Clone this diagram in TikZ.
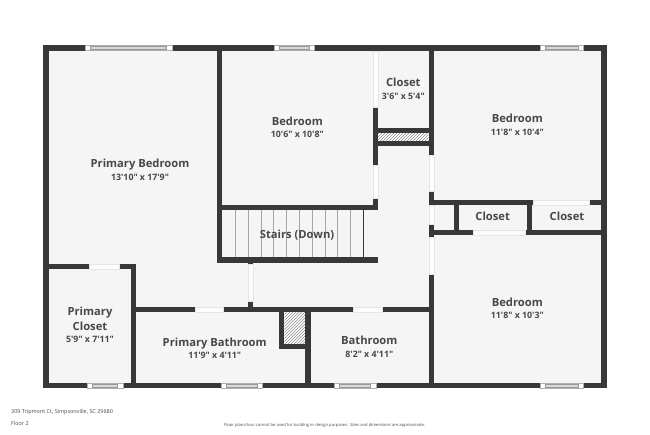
\documentclass[tikz,border=0pt]{standalone}
\usepackage{fontspec}
\newfontfamily\planfont{Open Sans}
\usetikzlibrary{positioning,patterns}

\definecolor{wallcol}{HTML}{383838}
\definecolor{floorcol}{HTML}{F5F5F5}
\definecolor{textcol}{HTML}{484848}
\definecolor{panecol}{HTML}{D9D9D9}

\tikzset{
  wall/.style={draw=wallcol, line width=5.3pt, line cap=butt},
  doorgap/.style={draw=black!10, line width=0.25pt, fill=white!70!floorcol},
  winframe/.style={draw=panecol!80!black, line width=0.3pt, fill=white},
  winpane/.style={draw=panecol!70!black, line width=0.3pt, fill=panecol},
  riser/.style={draw=black!35, line width=0.6pt},
  roomname/.style={text=textcol, font=\planfont\bfseries\fontsize{11.2}{13}\selectfont, inner sep=0pt, align=center},
  roomsize/.style={text=textcol, font=\planfont\bfseries\fontsize{8.8}{10}\selectfont, inner sep=0pt},
  footnote/.style={text=textcol, inner sep=0pt, anchor=west}
}

\begin{document}
\begin{tikzpicture}[x=1pt, y=-1pt]
        \useasboundingbox (0,0) rectangle (650,434);

        % floor
        \fill[floorcol] (46,48) rectangle (604,385.7);

        % hatched fill
        \fill[white] (378,133.3) rectangle (428.7,141);
        \fill[pattern=north east lines, pattern color=black!45] (378,133.3) rectangle (428.7,141);
        \fill[white] (284.3,312.3) rectangle (305.3,343.7);
        \fill[pattern=north east lines, pattern color=black!45] (284.3,312.3) rectangle (305.3,343.7);

        % stairs
        \path[riser]
          (235.7,210) -- (235.7,257.5)
          (248.3,210) -- (248.3,257.5)
          (261,210) -- (261,257.5)
          (273.7,210) -- (273.7,257.5)
          (286.7,210) -- (286.7,257.5)
          (299.7,210) -- (299.7,257.5)
          (312.7,210) -- (312.7,257.5)
          (325.3,210) -- (325.3,257.5)
          (337.3,210) -- (337.3,257.5)
          (350.7,210) -- (350.7,257.5);
        \draw[wallcol, line width=1pt] (363.3,210) -- (363.3,257.5);

        % outer walls
        \draw[wall, line join=miter] (46,48) rectangle (604.1,385.7);

        % inner walls
        \path[wall]
          (219.3,48) -- (219.3,262.7)
          (217,207.7) -- (378,207.7)
          (217,260) -- (378,260)
          (375.3,106.7) -- (375.3,165)
          (375.3,198.3) -- (375.3,210.3)
          (431.2,48) -- (431.2,155)
          (431.2,190.7) -- (431.2,205)
          (431.2,223.7) -- (431.2,237.3)
          (431.2,274) -- (431.2,388)
          (375,130.8) -- (431,130.8)
          (375,143.5) -- (431,143.5)
          (429,202.7) -- (604,202.7)
          (429,232.5) -- (604,232.5)
          (456.2,202) -- (456.2,233)
          (529.5,202) -- (529.5,233)
          (46,266.8) -- (136.3,266.8)
          (133.8,264.2) -- (133.8,388)
          (133.8,309.7) -- (431,309.7)
          (281.7,307) -- (281.7,349)
          (279,346.3) -- (310.7,346.3)
          (308,307) -- (308,388);
        \draw[wallcol, line width=5pt] (250.7,262) -- (250.7,264.4) (250.7,301) -- (250.7,308);

        % door openings
        \draw[doorgap] (372.7,50.7) rectangle (378,106.7);
        \draw[doorgap] (372.7,165) rectangle (378,198.3);
        \draw[doorgap] (428.7,155) rectangle (433.7,190.7);
        \draw[doorgap] (428.7,205.4) rectangle (433.7,223.7);
        \draw[doorgap] (428.7,237.3) rectangle (433.7,274);
        \draw[doorgap] (533.3,200) rectangle (589.3,205.4);
        \draw[doorgap] (473.3,229.8) rectangle (525.3,235.2);
        \draw[doorgap] (89.3,264.1) rectangle (119.3,269.5);
        \draw[doorgap] (195,307) rectangle (223.3,312.4);
        \draw[doorgap] (352.7,307) rectangle (382,312.4);
        \draw[doorgap] (248.2,264.4) rectangle (253.2,301);

        % windows
        \draw[winframe] (85,45.4) rectangle (171.7,50.6);
        \draw[winpane] (90.5,46.4) rectangle (166.5,49.6);
        \draw[winframe] (274,45.4) rectangle (314.3,50.6);
        \draw[winpane] (279,46.4) rectangle (309,49.6);
        \draw[winframe] (540.3,45.4) rectangle (583.3,50.6);
        \draw[winpane] (545.3,46.4) rectangle (578,49.6);
        \draw[winframe] (86.7,383.1) rectangle (122.7,388.3);
        \draw[winpane] (92,384.1) rectangle (117.5,387.3);
        \draw[winframe] (221.3,383.1) rectangle (261.7,388.3);
        \draw[winpane] (226.3,384.1) rectangle (257,387.3);
        \draw[winframe] (334,383.1) rectangle (375.7,388.3);
        \draw[winpane] (339.3,384.1) rectangle (370.5,387.3);
        \draw[winframe] (539.7,383.1) rectangle (582.7,388.3);
        \draw[winpane] (544.7,384.1) rectangle (578,387.3);

        % labels
        \node[roomname] (primarybed) at (140,165) {Primary Bedroom};
        \node[roomsize] (primarybedsize) at (140,177.5) {13'10" x 17'9"};
        \node[roomname] (bedA) at (297.3,121) {Bedroom};
        \node[roomsize] (bedAsize) at (297.3,134.5) {10'6" x 10'8"};
        \node[roomname] (closetA) at (403.3,82.7) {Closet};
        \node[roomsize] (closetAsize) at (403.3,96.2) {3'6" x 5'4"};
        \node[roomname] (bedB) at (517.3,118.3) {Bedroom};
        \node[roomsize] (bedBsize) at (517.3,132.2) {11'8" x 10'4"};
        \node[roomname] (closetB) at (492.7,216) {Closet};
        \node[roomname] (closetC) at (567,216) {Closet};
        \node[roomname] (stairs) at (297,234.8) {Stairs (Down)};
        \node[roomname] (primarycl) at (90,319) {Primary\\[2.5pt]Closet};
        \node[roomsize] (primaryclsize) at (90,339.5) {5'9" x 7'11"};
        \node[roomname] (primarybath) at (214.7,344) {Primary Bathroom};
        \node[roomsize] (primarybathsize) at (214.7,355.8) {11'9" x 4'11"};
        \node[roomname] (bath) at (369.3,340.7) {Bathroom};
        \node[roomsize] (bathsize) at (369.3,354.5) {8'2" x 4'11"};
        \node[roomname] (bedC) at (517.3,302.3) {Bedroom};
        \node[roomsize] (bedCsize) at (517.3,315.5) {11'8" x 10'3"};

        % footer
        \node[footnote, font=\planfont\fontsize{5.45}{6}\selectfont] (address) at (11,412.3) {309 Tripmont Ct, Simpsonville, SC 29680};
        \node[footnote, font=\planfont\fontsize{5.45}{6}\selectfont] (floor) at (11,423) {Floor 2};
        \node[footnote, font=\planfont\fontsize{4.13}{5}\selectfont] (disclaimer) at (224,425) {Floor plans/tour cannot be used for building or design purposes. Sizes and dimensions are approximate.};
  \end{tikzpicture}
\end{document}
